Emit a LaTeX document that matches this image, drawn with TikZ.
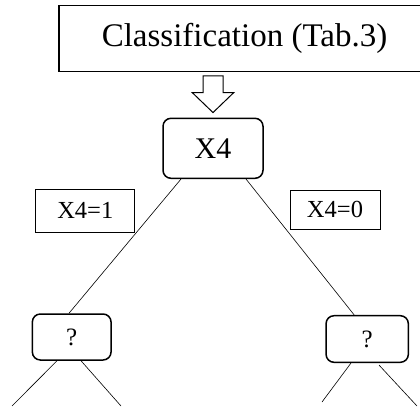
\documentclass[tikz,border=0pt]{standalone}
\usepackage{fontspec}
\setmainfont{Liberation Serif}
\usetikzlibrary{calc}
\begin{document}
\begin{tikzpicture}[x=1pt,y=-1pt,
  topbox/.style={draw,line width=1.5pt,inner sep=0pt,minimum width=371pt,minimum height=66pt,font=\fontsize{33}{37}\selectfont},
  decbox/.style={draw,line width=1.5pt,rounded corners=8pt,inner sep=0pt},
  labbox/.style={draw,line width=1pt,inner sep=0pt,font=\fontsize{24.5}{28}\selectfont},
  edge/.style={line width=0.6pt}]
\useasboundingbox (0,0) rectangle (420,407);
\node[topbox] (cls) at (244.5,38.6) {Classification (Tab.3)};
\node[decbox,minimum width=100pt,minimum height=60pt,font=\fontsize{30}{34}\selectfont] (x4) at (213,148.3) {X4};
\node[decbox,minimum width=78.7pt,minimum height=46pt,font=\fontsize{25}{28}\selectfont] (q1) at (71.7,337) {?};
\node[decbox,minimum width=82.3pt,minimum height=46.6pt,font=\fontsize{25}{28}\selectfont] (q2) at (367.2,339) {?};
\node[labbox,minimum width=99.3pt,minimum height=43.3pt] (l1) at (85.3,210.7) {X4=1};
\node[labbox,minimum width=90pt,minimum height=39.3pt] (l0) at (335,209.7) {X4=0};
% hollow arrow from the classification box to X4
\draw[line width=1pt,line join=miter]
  ($(x4.north)+(-10,-41.6)$) -- ($(x4.north)+(10,-41.6)$) -- ($(x4.north)+(10,-25)$)
  -- ($(x4.north)+(20.8,-25)$) -- ($(x4.north)+(0,-5)$) -- ($(x4.north)+(-20.8,-25)$)
  -- ($(x4.north)+(-10,-25)$) -- cycle;
% edges
\draw[edge] ($(x4.south)+(-32,0)$) -- ($(q1.north)+(-2.7,0)$);
\draw[edge] ($(x4.south)+(33,0)$) -- ($(q2.north)+(-13,0)$);
\coordinate (e1) at (12,406);
\coordinate (e2) at (121,406);
\coordinate (e3) at (322,402);
\coordinate (e4) at (417,406);
\draw[edge] ($(q1.south)+(-14.7,0)$) -- (e1);
\draw[edge] ($(q1.south)+(9.3,0)$) -- (e2);
\draw[edge] ($(q2.south)+(-16.2,0)$) -- (e3);
\draw[edge] ($(q2.south)+(11.8,2)$) -- (e4);
\end{tikzpicture}
\end{document}
